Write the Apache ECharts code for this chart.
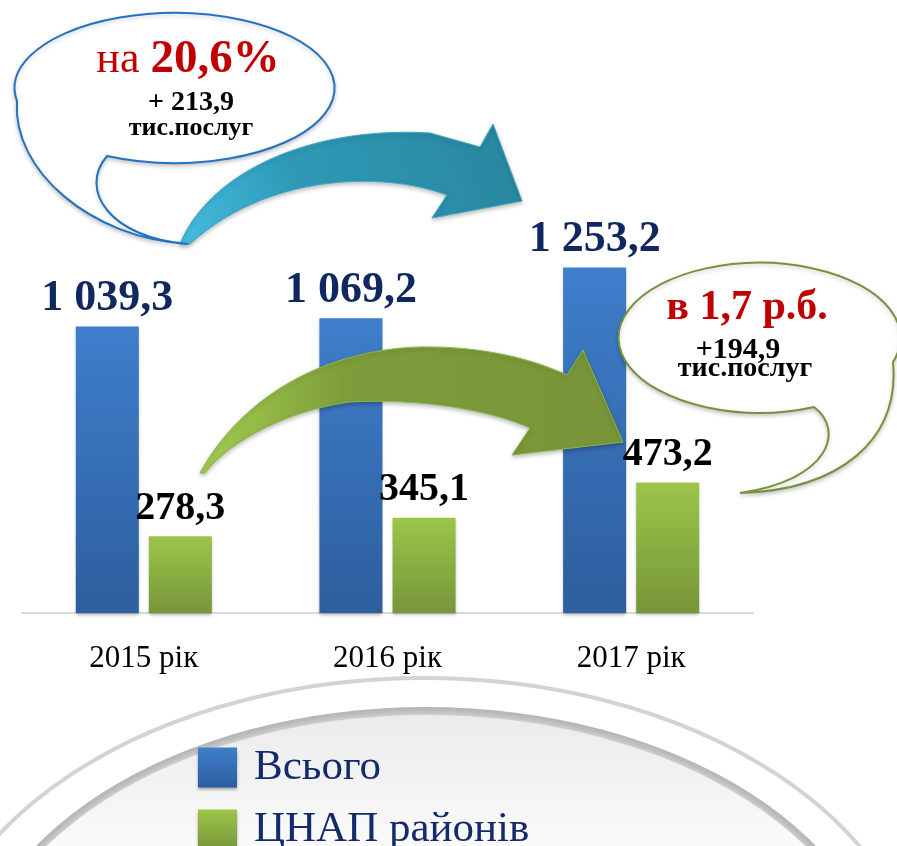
<!DOCTYPE html>
<html>
<head>
<meta charset="utf-8">
<script src="https://cdn.jsdelivr.net/npm/echarts@6/dist/echarts.min.js"></script>
<style>
  html, body { margin: 0; padding: 0; background: #ffffff; }
  #chart { width: 897px; height: 846px; }
</style>
</head>
<body>
<div id="chart"></div>
<script>
var years = ['2015 рік', '2016 рік', '2017 рік'];
var seriesNames = ['Всього', 'ЦНАП районів'];
var totalValues = [1039.3, 1069.2, 1253.2];
var districtValues = [278.3, 345.1, 473.2];

var SERIF = '"Liberation Serif", "Times New Roman", serif';

// 1039.3 -> "1 039,3"
function fmt(v) {
    var parts = v.toFixed(1).split('.');
    var intPart = parts[0].replace(/\B(?=(\d{3})+(?!\d))/g, ' ');
    return intPart + ',' + parts[1];
}

function ellipsePath(cx, cy, rx, ry) {
    return 'M ' + (cx - rx) + ' ' + cy +
        ' A ' + rx + ' ' + ry + ' 0 1 0 ' + (cx + rx) + ' ' + cy +
        ' A ' + rx + ' ' + ry + ' 0 1 0 ' + (cx - rx) + ' ' + cy + ' Z';
}

// decorative shapes (callouts, arrows, legend backdrop)
var shapes = {
    ovalRing: ellipsePath(424, 1009, 500, 331),
    ovalEdge: ellipsePath(426, 1003, 460, 296),
    ovalFace: ellipsePath(426, 1006, 454, 291),
    tealArrow: 'M 180 244 C 210 172 310 126 430 133 L 480 147 L 493 124 L 522 201 L 432 218 L 447 195 C 380 170 265 175 190 244 Z',
    greenArrow: 'M 200 473 C 240 400 320 350 420 347 C 480 346 530 358 567 375 L 583 350 L 623 442 L 512 455 L 530 428 C 490 410 420 398 350 402 C 290 410 230 440 205 473 Z',
    bubble1: 'M 107 156 A 160 75 0 1 0 17 101 C 12 170 90 238 188 244 C 110 238 78 190 107 156 Z',
    bubble2: 'M 814 407 A 141 75 0 1 1 893 362 C 900 440 840 490 740 493 C 830 480 845 430 814 407 Z'
};
Object.keys(shapes).forEach(function (k) {
    echarts.graphic.registerShape(k, echarts.graphic.extendPath(shapes[k], {}));
});

var blueGrad = new echarts.graphic.LinearGradient(0, 0, 0, 1, [
    { offset: 0, color: '#3e7ecb' },
    { offset: 1, color: '#2d5e9e' }
]);
var greenGrad = new echarts.graphic.LinearGradient(0, 0, 0, 1, [
    { offset: 0, color: '#9cc549' },
    { offset: 1, color: '#77963a' }
]);

var chart = echarts.init(document.getElementById('chart'));

var option = {
    animation: false,
    backgroundColor: '#ffffff',
    grid: { left: 22, right: 144, top: 227, bottom: 233 },
    xAxis: {
        type: 'category',
        data: years,
        axisTick: { show: false },
        axisLine: { lineStyle: { color: '#d9d9d9', width: 2 } },
        axisLabel: {
            margin: 30,
            fontFamily: SERIF,
            fontSize: 31,
            color: '#000000'
        }
    },
    yAxis: {
        type: 'value',
        min: 0,
        max: 1400,
        show: false,
        splitLine: { show: false }
    },
    legend: {
        data: seriesNames,
        orient: 'vertical',
        left: 198,
        top: 746,
        height: 140,
        padding: 0,
        itemWidth: 39,
        itemHeight: 40,
        itemGap: 19,
        icon: 'rect',
        z: 10,
        itemStyle: {
            shadowBlur: 3,
            shadowColor: 'rgba(0,0,0,0.35)',
            shadowOffsetY: 2
        },
        textStyle: {
            fontFamily: SERIF,
            fontSize: 43,
            color: '#132a6b',
            padding: [0, 0, 0, 12]
        }
    },
    graphic: [
        {
            type: 'ovalRing',
            z: 1,
            style: { fill: '#ffffff', stroke: '#d3d3d3', lineWidth: 4 }
        },
        {
            type: 'ovalEdge',
            z: 2,
            style: { fill: '#b4b4b4' }
        },
        {
            type: 'ovalFace',
            z: 3,
            style: {
                fill: new echarts.graphic.LinearGradient(0, 0, 0, 1, [
                    { offset: 0, color: '#ebebeb' },
                    { offset: 0.25, color: '#fcfcfc' },
                    { offset: 1, color: '#ffffff' }
                ]),
                shadowBlur: 9,
                shadowColor: '#eeeeee'
            }
        },
        {
            type: 'tealArrow',
            z: 20,
            style: {
                fill: new echarts.graphic.LinearGradient(0, 1, 1, 0, [
                    { offset: 0, color: '#45bde0' },
                    { offset: 0.35, color: '#2e9ab8' },
                    { offset: 1, color: '#29859c' }
                ]),
                stroke: '#3aa8c8',
                lineWidth: 1,
                shadowBlur: 4,
                shadowColor: 'rgba(0,0,0,0.25)',
                shadowOffsetY: 2
            }
        },
        {
            type: 'greenArrow',
            z: 20,
            style: {
                fill: new echarts.graphic.LinearGradient(0, 0, 1, 0, [
                    { offset: 0, color: '#a3cc4f' },
                    { offset: 0.35, color: '#7d9d3b' },
                    { offset: 1, color: '#779539' }
                ]),
                stroke: '#8db845',
                lineWidth: 1,
                shadowBlur: 4,
                shadowColor: 'rgba(0,0,0,0.25)',
                shadowOffsetY: 2
            }
        },
        {
            type: 'bubble1',
            z: 30,
            style: {
                fill: '#ffffff',
                stroke: '#2473c0',
                lineWidth: 2,
                shadowBlur: 4,
                shadowColor: 'rgba(0,0,0,0.2)',
                shadowOffsetY: 2
            }
        },
        {
            type: 'bubble2',
            z: 30,
            style: {
                fill: '#ffffff',
                stroke: '#76933c',
                lineWidth: 2,
                shadowBlur: 4,
                shadowColor: 'rgba(0,0,0,0.2)',
                shadowOffsetY: 2
            }
        },
        {
            type: 'text',
            z: 31,
            style: {
                text: '{a|на }{b|20,6%}',
                x: 188, y: 60,
                textAlign: 'center', textVerticalAlign: 'middle',
                fill: '#c00000',
                rich: {
                    a: { fontFamily: SERIF, fontSize: 44, fill: '#c00000' },
                    b: { fontFamily: SERIF, fontSize: 47, fontWeight: 'bold', fill: '#c00000' }
                }
            }
        },
        {
            type: 'text',
            z: 31,
            style: {
                text: '+ 213,9',
                x: 191, y: 103,
                textAlign: 'center', textVerticalAlign: 'middle',
                fontFamily: SERIF, fontSize: 28, fontWeight: 'bold', fill: '#000000'
            }
        },
        {
            type: 'text',
            z: 31,
            style: {
                text: 'тис.послуг',
                x: 191, y: 128,
                textAlign: 'center', textVerticalAlign: 'middle',
                fontFamily: SERIF, fontSize: 26, fontWeight: 'bold', fill: '#000000'
            }
        },
        {
            type: 'text',
            z: 31,
            style: {
                text: 'в 1,7 р.б.',
                x: 747, y: 308,
                textAlign: 'center', textVerticalAlign: 'middle',
                fontFamily: SERIF, fontSize: 42, fontWeight: 'bold', fill: '#c00000'
            }
        },
        {
            type: 'text',
            z: 31,
            style: {
                text: '+194,9',
                x: 738, y: 350,
                textAlign: 'center', textVerticalAlign: 'middle',
                fontFamily: SERIF, fontSize: 30, fontWeight: 'bold', fill: '#000000'
            }
        },
        {
            type: 'text',
            z: 32,
            style: {
                text: 'тис.послуг',
                x: 745, y: 369,
                textAlign: 'center', textVerticalAlign: 'middle',
                fontFamily: SERIF, fontSize: 28, fontWeight: 'bold', fill: '#000000'
            }
        }
    ],
    series: [
        {
            name: seriesNames[0],
            type: 'bar',
            data: totalValues,
            barWidth: 63,
            barGap: '16%',
            itemStyle: {
                color: blueGrad,
                shadowBlur: 3,
                shadowColor: 'rgba(0,0,0,0.3)',
                shadowOffsetY: 2
            },
            label: {
                show: true,
                position: 'top',
                distance: 6,
                formatter: function (p) { return fmt(p.value); },
                fontFamily: SERIF,
                fontSize: 44,
                fontWeight: 'bold',
                color: '#10285f'
            }
        },
        {
            name: seriesNames[1],
            type: 'bar',
            data: districtValues,
            barWidth: 63,
            itemStyle: {
                color: greenGrad,
                shadowBlur: 3,
                shadowColor: 'rgba(0,0,0,0.3)',
                shadowOffsetY: 2
            },
            label: {
                show: true,
                position: 'top',
                distance: 8,
                formatter: function (p) { return fmt(p.value); },
                fontFamily: SERIF,
                fontSize: 40,
                fontWeight: 'bold',
                color: '#000000'
            }
        }
    ]
};

chart.setOption(option);
</script>
</body>
</html>
